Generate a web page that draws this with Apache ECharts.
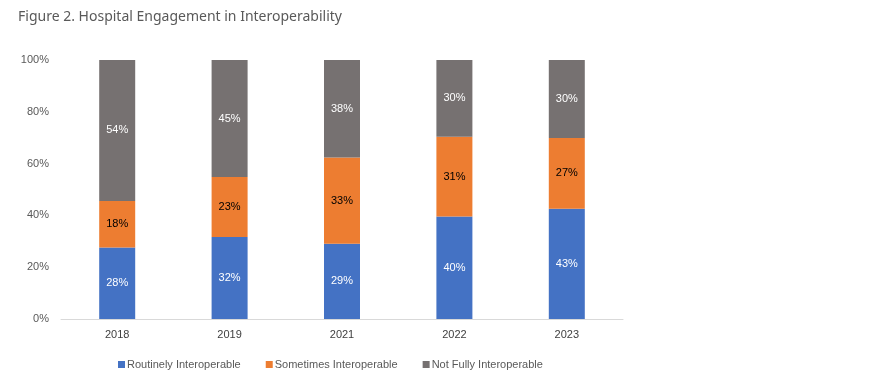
<!DOCTYPE html>
<html><head><meta charset="utf-8">
<script src="https://cdn.jsdelivr.net/npm/echarts@6/dist/echarts.min.js"></script>
<style>html,body{margin:0;padding:0;background:#fff}#c{width:885px;height:384px}</style>
</head><body><div id="c"></div>
<script>
const categories = ['2018', '2019', '2021', '2022', '2023'];
const routinely = [27.6, 31.7, 29.1, 39.6, 42.6];
const sometimes = [18.0, 23.1, 33.3, 30.8, 27.3];
const notFully = [54.4, 45.2, 37.6, 29.6, 30.1];
const seriesNames = ['Routinely Interoperable', 'Sometimes Interoperable', 'Not Fully Interoperable'];
const yTicks = [0, 20, 40, 60, 80, 100];

const chart = echarts.init(document.getElementById('c'));
const font = 'Liberation Sans, Arial, sans-serif';
function mk(name, data, color, labelColor) {
  return {
    name, type: 'bar', stack: 'a', data, barWidth: 36,
    itemStyle: { color },
    label: { show: true, position: 'inside', color: labelColor, fontSize: 11, fontFamily: font,
      formatter: p => Math.round(p.value) + '%' }
  };
}
chart.setOption({
  animation: false,
  title: { text: 'Figure 2. Hospital Engagement in Interoperability', left: 13, top: 5,
    textStyle: { fontFamily: 'Noto Sans, sans-serif', fontSize: 14, fontWeight: 'normal', color: '#595959' } },
  grid: { left: 61, right: 262, top: 60, bottom: 65 },
  legend: { left: 113, top: 354, itemWidth: 7, itemHeight: 7, itemGap: 25, icon: 'rect',
    textStyle: { fontFamily: font, fontSize: 11, color: '#595959', padding: [0, 0, 0, -3] },
    data: seriesNames },
  xAxis: { type: 'category', data: categories,
    axisLine: { lineStyle: { color: '#d9d9d9' } }, axisTick: { show: false },
    axisLabel: { fontFamily: font, fontSize: 11, color: '#404040', margin: 10 } },
  yAxis: { type: 'value', min: 0, max: 100, interval: 20,
    splitLine: { show: false }, axisLine: { show: false }, axisTick: { show: false },
    axisLabel: { fontFamily: font, fontSize: 11, color: '#595959', margin: 12,
      formatter: v => yTicks.includes(v) ? v + '%' : '' } },
  series: [
    mk(seriesNames[0], routinely, '#4472C4', '#ffffff'),
    mk(seriesNames[1], sometimes, '#ED7D31', '#000000'),
    mk(seriesNames[2], notFully, '#767171', '#ffffff')
  ]
});
</script></body></html>
